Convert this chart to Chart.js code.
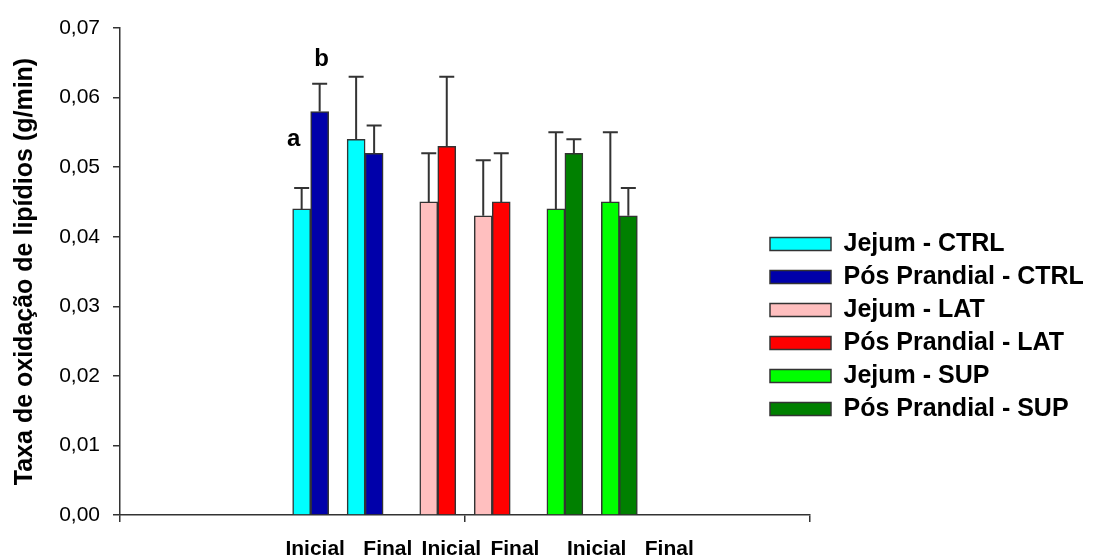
<!DOCTYPE html>
<html lang="pt">
<head>
<meta charset="utf-8">
<title>Taxa de oxidação de lipídios</title>
<script src="https://cdn.jsdelivr.net/npm/chart.js@4.4.1/dist/chart.umd.min.js"></script>
<style>
  html, body { margin: 0; padding: 0; background: #fff; }
  canvas { display: block; }
</style>
</head>
<body>
<canvas id="grafico" width="1106" height="556"></canvas>
<script>
// Taxa de oxidação de lipídios: Jejum x Pós Prandial, por grupo e momento

const grupos = ['CTRL', 'LAT', 'SUP'];
const momentos = ['Inicial', 'Final'];
const series = ['Jejum - CTRL', 'Pós Prandial - CTRL', 'Jejum - LAT', 'Pós Prandial - LAT', 'Jejum - SUP', 'Pós Prandial - SUP'];

// valores médios (Inicial, Final)
const jejumCtrl = [0.044, 0.054];
const posCtrl = [0.058, 0.052];
const jejumLat = [0.045, 0.043];
const posLat = [0.053, 0.045];
const jejumSup = [0.044, 0.045];
const posSup = [0.052, 0.043];

// desvio (só para cima)
const erroJejumCtrl = [0.003, 0.009];
const erroPosCtrl = [0.004, 0.004];
const erroJejumLat = [0.007, 0.008];
const erroPosLat = [0.010, 0.007];
const erroJejumSup = [0.011, 0.010];
const erroPosSup = [0.002, 0.004];

const rotulosY = ['0,00', '0,01', '0,02', '0,03', '0,04', '0,05', '0,06', '0,07'];
const rotulosX = ['Inicial', 'Final', 'Inicial', 'Final', 'Inicial', 'Final'];

// letras de significância: série, momento, texto
const letras = [
  { serie: 0, momento: 0, texto: 'a' },
  { serie: 1, momento: 0, texto: 'b' }
];

const valores = [jejumCtrl, posCtrl, jejumLat, posLat, jejumSup, posSup];
const erros = [erroJejumCtrl, erroPosCtrl, erroJejumLat, erroPosLat, erroJejumSup, erroPosSup];
const cores = ['#00FFFF', '#0000AA', '#FFBFBF', '#FF0000', '#00FF00', '#008000'];

// grade fina do eixo x: barras (38 posições) e rótulos (76 posições)
const nSlots = 38;
const slotsBarras = [[10, 13], [17, 20], [24, 27]];
const nSlotsRotulos = 76;
const slotsRotulos = [21, 29, 36, 43, 52, 60];

const labelsSlots = new Array(nSlots).fill('');
const labelsRotulos = new Array(nSlotsRotulos).fill('');
slotsRotulos.forEach((s, i) => { labelsRotulos[s] = rotulosX[i]; });

function montarSerie(arr, g) {
  const d = new Array(nSlots).fill(null);
  momentos.forEach((m, k) => { d[slotsBarras[g][k]] = arr[k]; });
  return d;
}

const datasets = series.map((nome, i) => {
  const g = Math.floor(i / 2);
  return {
    label: nome,
    data: montarSerie(valores[i], g),
    erro: montarSerie(erros[i], g),
    backgroundColor: cores[i],
    borderColor: '#333',
    borderWidth: 1.5,
    barThickness: 18,
    skipNull: true
  };
});

// barras de erro (só a parte de cima)
const barrasErro = {
  id: 'barrasErro',
  afterDatasetsDraw(chart) {
    const { ctx, scales: { y } } = chart;
    ctx.save();
    ctx.strokeStyle = '#333';
    ctx.lineWidth = 2;
    chart.data.datasets.forEach((ds, i) => {
      const meta = chart.getDatasetMeta(i);
      ds.data.forEach((v, j) => {
        if (v == null) return;
        const bar = meta.data[j];
        const yTopo = y.getPixelForValue(v + ds.erro[j]);
        ctx.beginPath();
        ctx.moveTo(bar.x, y.getPixelForValue(v));
        ctx.lineTo(bar.x, yTopo);
        ctx.moveTo(bar.x - 7.5, yTopo);
        ctx.lineTo(bar.x + 7.5, yTopo);
        ctx.stroke();
      });
    });
    ctx.restore();
  }
};

// letras a / b acima das barras
const deslocLetras = [[-8, -49], [2, -24]];
const letrasPlugin = {
  id: 'letras',
  afterDatasetsDraw(chart) {
    const { ctx, scales: { y } } = chart;
    ctx.save();
    ctx.font = 'bold 24px "Liberation Sans", Arial, sans-serif';
    ctx.fillStyle = '#000';
    ctx.textAlign = 'center';
    ctx.textBaseline = 'middle';
    letras.forEach((l, k) => {
      const g = Math.floor(l.serie / 2);
      const slot = slotsBarras[g][l.momento];
      const ds = chart.data.datasets[l.serie];
      const bar = chart.getDatasetMeta(l.serie).data[slot];
      const yTopo = y.getPixelForValue(ds.data[slot] + ds.erro[slot]);
      ctx.fillText(l.texto, bar.x + deslocLetras[k][0], yTopo + deslocLetras[k][1]);
    });
    ctx.restore();
  }
};

// legenda puxada para dentro, perto do fim do eixo x
const posLegenda = {
  id: 'posLegenda',
  afterLayout(chart) {
    const lg = chart.legend;
    lg.left = 762;
    const dy = 223.5 - lg.top;
    lg.top += dy; lg.bottom += dy;
  }
};

Chart.defaults.font.family = '"Liberation Sans", Arial, sans-serif';
Chart.defaults.color = '#000';

new Chart(document.getElementById('grafico'), {
  type: 'bar',
  data: { labels: labelsSlots, datasets },
  options: {
    responsive: false,
    animation: false,
    layout: { padding: { top: 28, left: 0, right: 0, bottom: 0 } },
    plugins: {
      tooltip: { enabled: false },
      legend: {
        position: 'right',
        align: 'start',
        maxWidth: 296,
        labels: {
          boxWidth: 61,
          boxHeight: 13,
          padding: 8,
          color: '#000',
          font: { size: 25, weight: 'bold' }
        }
      }
    },
    scales: {
      x: {
        display: false,
        offset: true
      },
      linha: {
        type: 'linear',
        position: 'bottom',
        weight: 0,
        min: 0,
        max: 2,
        offset: false,
        ticks: { stepSize: 1, display: false },
        grid: { offset: false, drawOnChartArea: false, drawTicks: true, tickLength: 7, color: '#333', lineWidth: 1.5 },
        border: { display: true, color: '#333', width: 1.5 },
        afterFit: (s) => { s.height = 7; }
      },
      rotulos: {
        type: 'category',
        labels: labelsRotulos,
        position: 'bottom',
        weight: 1,
        offset: true,
        grid: { display: false },
        border: { display: false },
        ticks: {
          autoSkip: false,
          maxRotation: 0,
          minRotation: 0,
          padding: 7,
          color: '#000',
          font: { size: 21, weight: 'bold' }
        },
        afterFit: (s) => { s.height = 34; }
      },
      y: {
        min: 0,
        max: 0.07,
        position: 'left',
        ticks: {
          stepSize: 0.01,
          padding: 13,
          color: '#000',
          font: { size: 21 },
          callback: (v, i) => rotulosY[i]
        },
        grid: { drawOnChartArea: false, drawTicks: true, tickLength: 7, color: '#333', lineWidth: 1.5 },
        border: { display: true, color: '#333', width: 1.5 },
        title: {
          display: true,
          text: 'Taxa de oxidação de lipídios (g/min)',
          color: '#000',
          font: { size: 25, weight: 'bold' },
          padding: { top: 10, bottom: 0 }
        },
        afterFit: (s) => { s.width = 120; }
      }
    }
  },
  plugins: [barrasErro, letrasPlugin, posLegenda]
});
</script>
</body>
</html>
